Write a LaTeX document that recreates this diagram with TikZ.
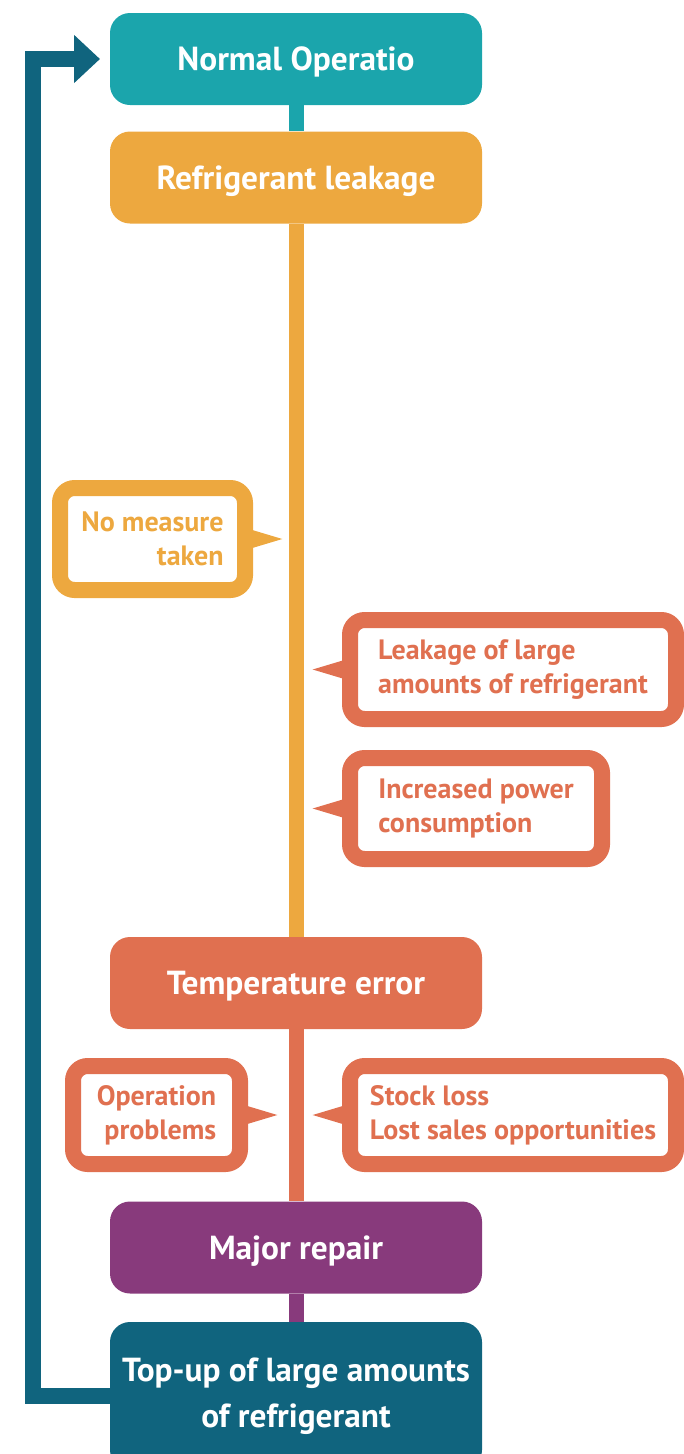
\documentclass[tikz,border=0pt]{standalone}
\usepackage{fontspec}
\setmainfont{PT Sans}
\usetikzlibrary{positioning,arrows.meta,calc}
\definecolor{opteal}{RGB}{27,165,172}
\definecolor{leakorange}{RGB}{237,168,63}
\definecolor{errcoral}{RGB}{224,112,80}
\definecolor{repairpurple}{RGB}{136,58,124}
\definecolor{topupblue}{RGB}{16,100,126}

\begin{document}
\begin{tikzpicture}[x=0.75pt, y=-0.75pt,
  mainbox/.style={fill=#1, rounded corners=15pt, minimum width=279pt, minimum height=69pt,
    inner sep=0pt, text=white, align=center, text height=17.5pt, text depth=0pt,
    font=\fontsize{25}{34.5}\selectfont\bfseries},
  bubble/.style={draw=#1, fill=white, text=#1, line width=12pt, rounded corners=11pt,
    inner sep=0pt, font=\fontsize{21}{25.5}\selectfont\bfseries},
  stem/.style={#1, line width=11.25pt},
  loopline/.style={topupblue, line width=12pt, line join=miter, -{Triangle[length=19.5pt, width=35pt]}}]
\useasboundingbox (0,0) rectangle (684,1454);

% Main steps
\node[mainbox=opteal] (normal) at (296,59) {Normal Operatio};
\node[mainbox=leakorange] (leak) at (296,177.5) {Refrigerant leakage};
\node[mainbox=errcoral] (temp) at (296,983) {Temperature error};
\node[mainbox=repairpurple] (major) at (296,1247.5) {Major repair};
\node[mainbox=topupblue, minimum height=111pt, text height={}, text depth={}] (topup) at (296,1396) {Top-up of large amounts\\of refrigerant};

% Stems between the steps
\foreach \a/\b/\c in {normal/leak/opteal, leak/temp/leakorange, temp/major/errcoral, major/topup/repairpurple} {
  \draw[stem=\c] (\a.south) -- (\b.north);
}

% Speech bubbles
\node[bubble=leakorange, minimum width=138.75pt, minimum height=76.5pt, align=right]
  (nomeasure) at (152.5,539) {No measure\\taken};
\node[bubble=errcoral, minimum width=244.5pt, minimum height=74.25pt, align=left]
  (bigleak) at (513,669.5) {Leakage of large\\amounts of refrigerant};
\node[bubble=errcoral, minimum width=189pt, minimum height=75.75pt, align=left]
  (power) at (476,808.5) {Increased power\\consumption};
\node[bubble=errcoral, minimum width=125.25pt, minimum height=73.5pt, align=right]
  (operation) at (156.5,1115) {Operation\\problems};
\node[bubble=errcoral, minimum width=244.5pt, minimum height=73.5pt, align=left]
  (stock) at (513,1115) {Stock loss\\Lost sales opportunities};

% Bubble pointers
\foreach \n/\s/\d/\c in {nomeasure/east/1/leakorange, operation/east/1/errcoral, bigleak/west/-1/errcoral, power/west/-1/errcoral, stock/west/-1/errcoral} {
  \fill[\c] ([xshift=-\d*3pt, yshift=7.5pt]\n.\s) -- ([xshift=\d*22pt]\n.\s) -- ([xshift=-\d*3pt, yshift=-7.5pt]\n.\s) -- cycle;
}

% Loop back to normal operation
\coordinate (loopx) at (33,0);
\coordinate (looptip) at (100,59);
\draw[loopline] (topup.west) -- (topup.west -| loopx) |- (looptip);
\end{tikzpicture}
\end{document}
